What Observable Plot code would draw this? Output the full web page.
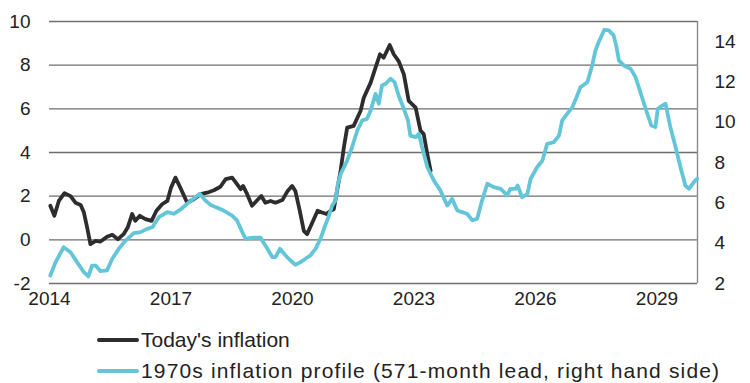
<!DOCTYPE html>
<html>
<head>
<meta charset="utf-8">
<script src="https://cdn.jsdelivr.net/npm/d3@7"></script>
<script src="https://cdn.jsdelivr.net/npm/@observablehq/plot@0.6"></script>
<style>
  body { margin: 0; background: #fff; font-family: "Liberation Sans", Arial, sans-serif; color: #222; }
  #legend { width: 750px; height: 65px; position: relative; }
  .row { position: absolute; left: 97px; display: flex; align-items: center; font-size: 21px; height: 30px; white-space: nowrap; }
  .sw { width: 42px; height: 4px; border-radius: 2px; margin-right: 2px; }
</style>
</head>
<body>
<div id="chart"></div>
<div id="legend">
  <div class="row" style="top:7px"><div class="sw" style="background:#2d2d2d"></div><span>Today's inflation</span></div>
  <div class="row" style="top:38px"><div class="sw" style="background:#62c6d8"></div><span style="letter-spacing:1.15px">1970s inflation profile (571-month lead, right hand side)</span></div>
</div>
<script>
// Today's inflation (left axis, %), decimal year
const todayYear = [2014.02,2014.12,2014.23,2014.37,2014.52,2014.64,2014.77,2014.85,2014.93,2015.01,2015.14,2015.26,2015.42,2015.55,2015.69,2015.83,2015.93,2016.04,2016.12,2016.23,2016.37,2016.52,2016.64,2016.78,2016.91,2017.00,2017.11,2017.23,2017.40,2017.56,2017.73,2017.89,2018.06,2018.22,2018.35,2018.51,2018.63,2018.72,2018.78,2018.88,2019.00,2019.11,2019.23,2019.33,2019.46,2019.58,2019.75,2019.88,2019.99,2020.07,2020.18,2020.28,2020.36,2020.49,2020.62,2020.73,2020.84,2020.94,2021.02,2021.10,2021.19,2021.27,2021.35,2021.51,2021.68,2021.76,2021.93,2022.05,2022.16,2022.25,2022.40,2022.50,2022.62,2022.75,2022.87,2023.04,2023.16,2023.24,2023.33,2023.41];
const todayValue = [1.56,1.1,1.78,2.14,2.0,1.7,1.6,1.25,0.56,-0.2,-0.05,-0.08,0.14,0.23,0.03,0.26,0.56,1.18,0.87,1.1,0.95,0.87,1.33,1.63,1.78,2.39,2.85,2.39,1.7,1.86,2.09,2.16,2.27,2.43,2.78,2.85,2.55,2.32,2.47,2.09,1.56,1.78,2.01,1.7,1.78,1.7,1.82,2.24,2.47,2.24,1.33,0.41,0.26,0.79,1.33,1.25,1.18,1.33,1.4,2.24,3.2,4.25,5.14,5.22,5.9,6.51,7.2,7.89,8.5,8.34,8.92,8.5,8.19,7.58,6.36,6.06,5.0,4.84,3.92,3.16];

// 1970s inflation profile (right axis, %), decimal year
const profileYear = [2014.02,2014.15,2014.35,2014.52,2014.68,2014.85,2014.96,2015.05,2015.14,2015.26,2015.42,2015.55,2015.71,2015.88,2016.08,2016.25,2016.41,2016.54,2016.70,2016.91,2017.07,2017.23,2017.40,2017.60,2017.71,2017.85,2017.98,2018.10,2018.30,2018.51,2018.63,2018.76,2018.84,2019.04,2019.21,2019.38,2019.50,2019.58,2019.69,2019.83,2019.95,2020.07,2020.20,2020.32,2020.44,2020.57,2020.69,2020.79,2020.90,2020.98,2021.06,2021.12,2021.19,2021.35,2021.47,2021.60,2021.72,2021.84,2021.93,2022.05,2022.13,2022.21,2022.30,2022.42,2022.52,2022.62,2022.75,2022.85,2022.91,2023.04,2023.12,2023.20,2023.33,2023.49,2023.65,2023.82,2023.94,2024.07,2024.19,2024.31,2024.44,2024.56,2024.68,2024.81,2024.97,2025.14,2025.30,2025.38,2025.51,2025.56,2025.67,2025.80,2025.88,2026.04,2026.17,2026.29,2026.45,2026.58,2026.66,2026.78,2026.91,2027.03,2027.11,2027.28,2027.40,2027.48,2027.56,2027.70,2027.81,2027.93,2028.00,2028.06,2028.18,2028.35,2028.47,2028.59,2028.72,2028.86,2028.96,2029.02,2029.13,2029.21,2029.33,2029.46,2029.58,2029.70,2029.79,2029.91,2029.99];
const profileValue = [2.4,3.06,3.8,3.55,3.06,2.56,2.35,2.89,2.89,2.61,2.65,3.23,3.72,4.13,4.5,4.55,4.71,4.79,5.29,5.54,5.46,5.66,5.96,6.28,6.45,6.12,5.9,5.79,5.62,5.37,5.13,4.55,4.22,4.27,4.27,3.72,3.31,3.31,3.72,3.39,3.14,2.93,3.06,3.23,3.39,3.72,4.22,4.79,5.37,5.87,6.12,6.95,7.44,8.1,8.76,9.59,10.09,10.17,10.59,11.41,10.92,11.83,11.91,12.16,11.99,11.33,10.67,10.09,9.34,9.26,9.43,8.76,7.77,7.11,6.62,5.87,6.2,5.62,5.54,5.46,5.13,5.21,6.12,6.95,6.78,6.7,6.37,6.7,6.7,6.86,6.28,6.45,7.2,7.77,8.1,8.93,9.01,9.34,10.09,10.42,10.75,11.33,11.74,11.99,12.82,13.56,13.98,14.59,14.56,14.31,13.73,13.07,12.82,12.65,12.24,11.49,10.67,9.84,9.76,10.67,10.83,10.92,9.76,8.76,7.77,6.86,6.7,7.03,7.2];

const xTicks = [2014, 2017, 2020, 2023, 2026, 2029];
const leftTicks = [-2, 0, 2, 4, 6, 8, 10];
const rightTicks = [2, 4, 6, 8, 10, 12, 14];

const leftDomain = [-2, 10];
const rightDomain = [2, 15];
const toLeft = r => leftDomain[0] + (r - rightDomain[0]) * (leftDomain[1] - leftDomain[0]) / (rightDomain[1] - rightDomain[0]);
const fromLeft = l => rightDomain[0] + (l - leftDomain[0]) * (rightDomain[1] - rightDomain[0]) / (leftDomain[1] - leftDomain[0]);

const today = todayYear.map((t, i) => ({t, v: todayValue[i]}));
const profile = profileYear.map((t, i) => ({t, v: profileValue[i]}));

const chart = Plot.plot({
  width: 750,
  height: 318,
  marginTop: 21,
  marginBottom: 35,
  marginLeft: 49,
  marginRight: 53,
  x: {domain: [2014, 2030]},
  y: {domain: leftDomain},
  style: {fontFamily: "'Liberation Sans', Arial, sans-serif", fontSize: "19px", color: "#222", background: "white"},
  marks: [
    Plot.ruleY(leftTicks, {stroke: "#6e6e6e", strokeWidth: 1.4}),
    Plot.ruleX([2030], {stroke: "#8a8a8a", strokeWidth: 1.4}),
    Plot.axisY(leftTicks, {anchor: "left", tickSize: 0, tickPadding: 19, label: null, tickFormat: d => String(d)}),
    Plot.axisY(rightTicks.map(toLeft), {anchor: "right", tickSize: 0, tickPadding: 17, label: null, tickFormat: d => String(Math.round(fromLeft(d)))}),
    Plot.axisX(xTicks, {anchor: "bottom", tickSize: 0, tickPadding: 8, label: null, tickFormat: d => String(d)}),
    Plot.line(today, {x: "t", y: "v", stroke: "#2d2d2d", strokeWidth: 3.8, strokeLinejoin: "round"}),
    Plot.line(profile, {x: "t", y: d => toLeft(d.v), stroke: "#62c6d8", strokeWidth: 3.8, strokeLinejoin: "round"})
  ]
});
document.getElementById("chart").append(chart);
</script>
</body>
</html>
